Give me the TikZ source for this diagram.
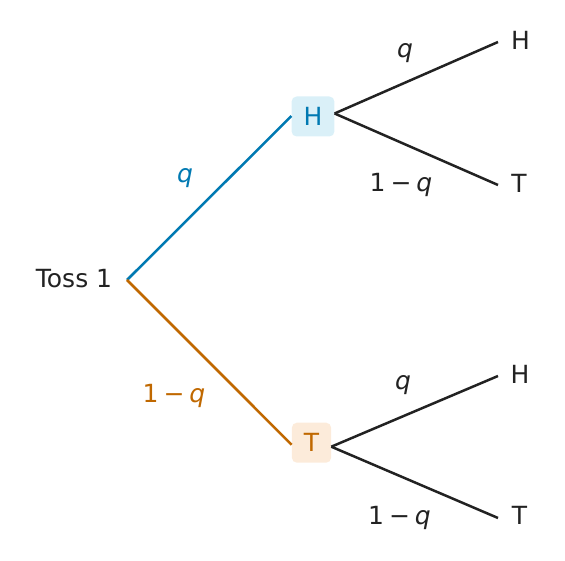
\documentclass[tikz,border=0pt]{standalone}
\usepackage{fontspec}
\setmainfont{DejaVu Sans}
\definecolor{ink}{RGB}{34,34,34}
\definecolor{cblue}{RGB}{0,121,178}
\definecolor{corange}{RGB}{192,104,0}
\definecolor{fblue}{RGB}{218,240,248}
\definecolor{forange}{RGB}{252,235,218}
\newcommand{\omq}{1\hspace{0.2em}−\hspace{0.2em}\textit{q}}
\begin{document}
\begin{tikzpicture}[x=1pt,y=1pt,
  every node/.style={font=\fontsize{25}{30}\selectfont, text=ink, inner sep=0pt},
  lbl/.style={anchor=base},
  outcome/.style={rounded corners=5pt, minimum height=40pt, inner xsep=12pt, anchor=center},
  edge/.style={line width=2.5pt, draw=ink},
]
\useasboundingbox (0,0) rectangle (565,561);
% root
\node[anchor=base] (toss) at (74,273) {Toss 1};
\coordinate (root) at (127,281);
% first-level outcome boxes
\node[outcome, fill=fblue, text=cblue] (hbox) at (313,444.5) {H};
\node[outcome, fill=forange, text=corange] (tbox) at (311.5,118.3) {T};
% leaves
\node[lbl] (hh) at (520.5,511.5) {H};
\node[lbl] (ht) at (519,368.5) {T};
\node[lbl] (th) at (520,177) {H};
\node[lbl] (tt) at (519.5,36) {T};
\coordinate (hhend) at (498,519);
\coordinate (htend) at (498,376);
\coordinate (thend) at (498,185);
\coordinate (ttend) at (498,43);
% first-level connectors
\draw[line width=2.5pt, cblue] (root) -- ([yshift=0.5pt]hbox.west);
\draw[line width=2.5pt, corange] (root) -- ([yshift=-2pt]tbox.west);
% second-level connectors
\draw[edge] ([yshift=3pt]hbox.east) -- (hhend);
\draw[edge] ([yshift=3pt]hbox.east) -- (htend);
\draw[edge] ([yshift=-4pt]tbox.east) -- (thend);
\draw[edge] ([yshift=-4pt]tbox.east) -- (ttend);
% probability labels
\node[lbl, text=cblue] (lq1) at (185,378) {\textit{q}};
\node[lbl, text=corange] (lnq1) at (174,158) {\omq};
\node[lbl] (lq2) at (405,503.4) {\textit{q}};
\node[lbl] (lnq2) at (401,369) {\omq};
\node[lbl] (lq3) at (403,171) {\textit{q}};
\node[lbl] (lnq3) at (399.5,36) {\omq};
\end{tikzpicture}
\end{document}
